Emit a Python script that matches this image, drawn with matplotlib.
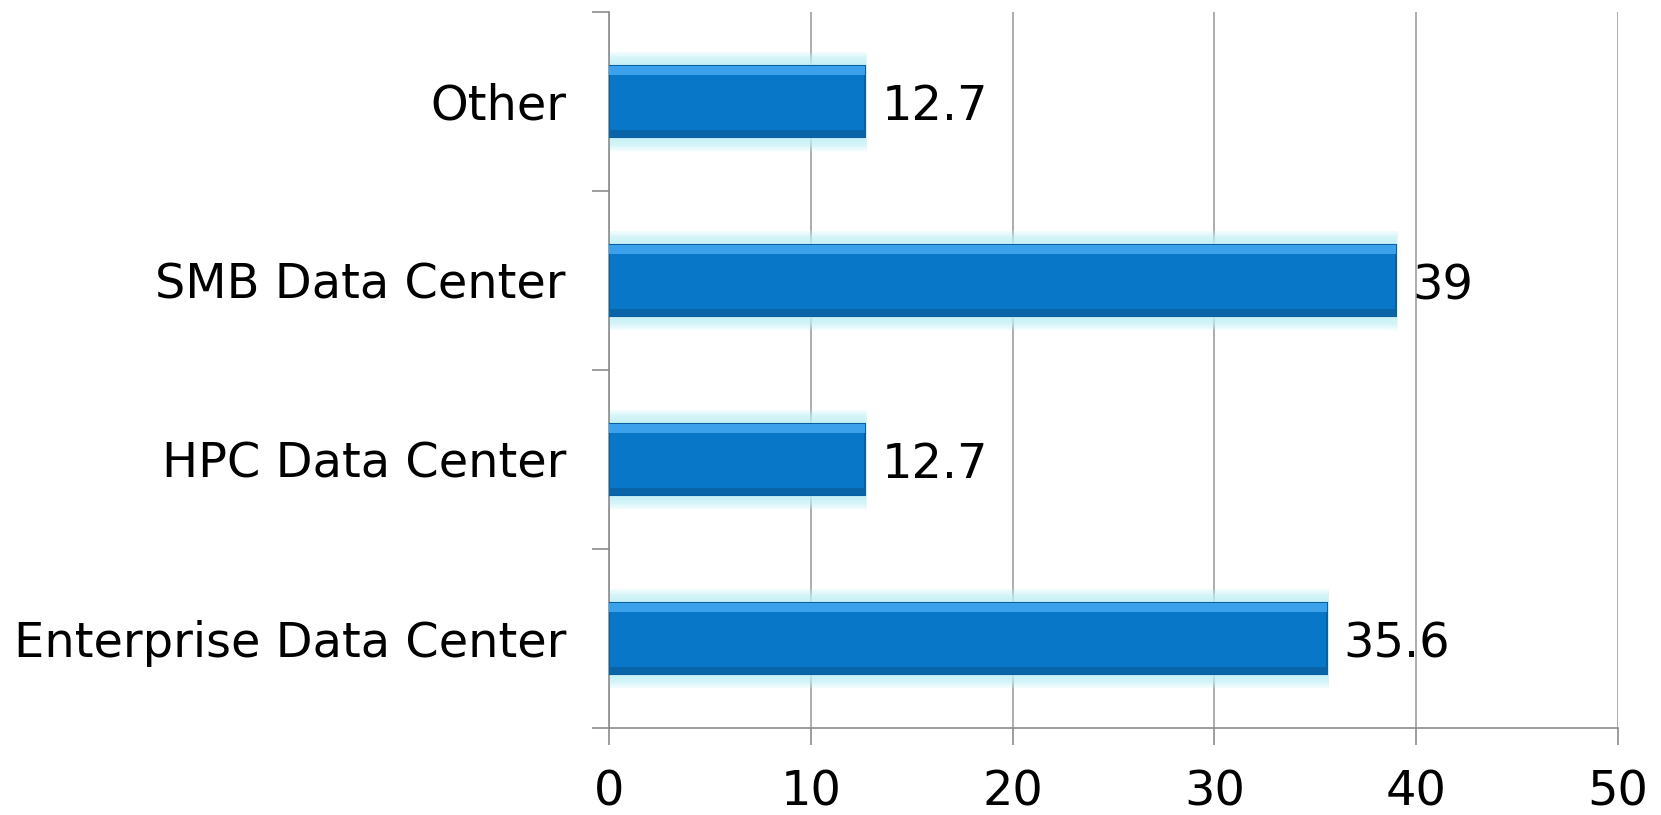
import matplotlib
matplotlib.use("Agg")
import matplotlib.pyplot as plt

categories = ["Enterprise Data Center", "HPC Data Center", "SMB Data Center", "Other"]
values = [35.6, 12.7, 39, 12.7]
value_labels = ["35.6", "12.7", "39", "12.7"]
xticks = [0, 10, 20, 30, 40, 50]

W, H = 1661, 815
FS = 34.5
fig = plt.figure(figsize=(W / 100, H / 100), dpi=100)
ax = fig.add_axes([609 / W, 1 - 728 / H, (1618 - 609) / W, (728 - 12) / H])

ypos = list(range(len(categories)))
bh = 0.4

# glow (soft halo)
n = 8
for i in range(n, 0, -1):
    k = 0.075 * i / n
    ax.barh(ypos, [v + k * 2.4 for v in values], height=bh + 2 * k, left=-k * 1.2,
            color="#bff0f6", alpha=0.22, linewidth=0, zorder=2)
# main bars
ax.barh(ypos, values, height=bh, color="#0877c8", edgecolor="#0a5f9e", linewidth=1.5, zorder=3)
# bevel highlight (top) and shade (bottom)
ax.barh([y + bh / 2 - 0.025 for y in ypos], values, height=0.05, color="#3aa1ea",
        linewidth=0, zorder=4)
ax.barh([y - bh / 2 + 0.02 for y in ypos], values, height=0.04, color="#0a64a8",
        linewidth=0, zorder=4)

for y, v, lab in zip(ypos, values, value_labels):
    ax.text(v + 0.8, y - 0.03, lab, va="center", ha="left", fontsize=FS, color="black",
            family="DejaVu Sans", zorder=5)

ax.set_xlim(0, 50)
ax.set_ylim(-0.5, len(categories) - 0.5)
ax.set_xticks(xticks)
ax.set_xticklabels([str(t) for t in xticks], fontsize=FS, family="DejaVu Sans")
ax.set_yticks([y - 0.5 for y in ypos] + [len(categories) - 0.5])
ax.set_yticklabels([])
ax.set_yticks(ypos, minor=True)
ax.set_yticklabels(categories, minor=True, fontsize=FS, family="DejaVu Sans")
ax.tick_params(axis="y", which="minor", length=0, pad=31)
ax.tick_params(axis="y", which="major", length=12, color="#8c8c8c", width=1.2)
ax.tick_params(axis="x", length=12, color="#8c8c8c", width=1.2, pad=17)

ax.xaxis.grid(True, color="#a0a0a0", linewidth=1.2, zorder=0)
ax.set_axisbelow(True)
for s in ["top", "right"]:
    ax.spines[s].set_visible(False)
for s in ["left", "bottom"]:
    ax.spines[s].set_color("#8c8c8c")
    ax.spines[s].set_linewidth(1.2)

fig.savefig("out.png", dpi=100)
